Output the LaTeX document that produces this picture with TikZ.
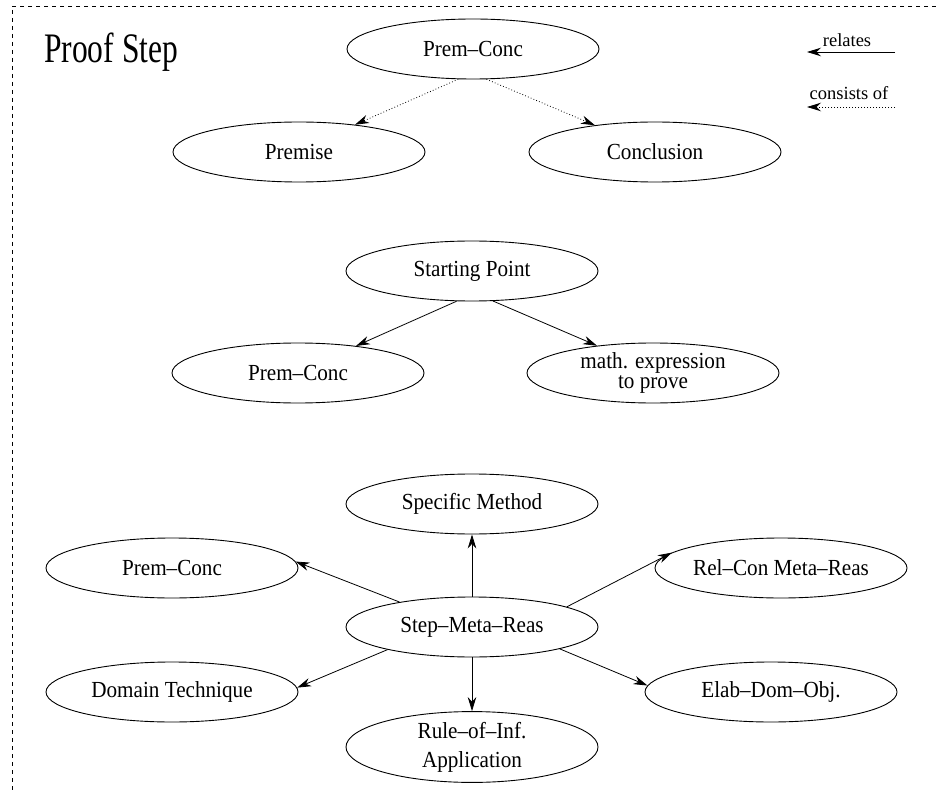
\documentclass[tikz,border=0pt]{standalone}
\usepackage{fontspec}
\setmainfont{Liberation Serif}
\newfontfamily\nodeface{Liberation Serif}[FakeStretch=0.92]
\newfontfamily\titleface{Liberation Serif}[FakeStretch=0.75]
\usetikzlibrary{shapes.geometric,arrows.meta}

\tikzset{
  concept/.style={ellipse, draw, line width=0.9pt, minimum width=252pt,
    minimum height=60pt, inner sep=0pt, align=center,
    font=\nodeface\fontsize{23}{18}\selectfont},
  relates/.style={line width=0.8pt, -{Stealth[length=14pt,width=8.5pt]}},
  consists/.style={line width=0.8pt, dash pattern=on 0.8pt off 2.2pt,
    -{Stealth[length=14pt,width=8.5pt]}},
  legendtext/.style={anchor=base, inner sep=0pt,
    font=\fontsize{18.5}{20}\selectfont},
  frameline/.style={line width=0.8pt, dash pattern=on 4pt off 4pt}
}

\begin{document}
\begin{tikzpicture}[x=1pt,y=-1pt]
\useasboundingbox (0,0) rectangle (936,791);

% enclosing frame (only its top and left edges fall on the page)
\draw[frameline] (936,6) -- (12,6) -- (12,791);

% title
\node[anchor=base west, inner sep=0pt, font=\titleface\fontsize{42}{44}\selectfont]
  (title) at (44,63) {Proof Step};

% legend
\node[legendtext] (relTxt) at (847,47) {relates};
\coordinate (relFrom) at (895,52);
\coordinate (relTo) at (807,52);
\draw[relates] (relFrom) -- (relTo);
\node[legendtext] (conTxt) at (849,100) {consists of};
\coordinate (conFrom) at (895,107);
\coordinate (conTo) at (807,107);
\draw[consists] (conFrom) -- (conTo);

% premise / conclusion decomposition
\node[concept] (pc1) at (473,49) {Prem–Conc};
\node[concept] (premise) at (299,152) {Premise};
\node[concept] (conclusion) at (655,152) {Conclusion};
\draw[consists] (pc1.244) -- (premise.26);
\draw[consists] (pc1.294) -- (conclusion.156);

% starting point
\node[concept] (start) at (472,271) {Starting Point};
\node[concept] (pc2) at (298,373) {Prem–Conc};
\node[concept] (mathexpr) at (653,373) {math. expression\\[1.5pt]to prove};
\draw[relates] (start.243) -- (pc2.25);
\draw[relates] (start.305) -- (mathexpr.154);

% step meta reasoning
\node[concept] (smr) at (472,627) {Step–Meta–Reas};
\node[concept] (sm) at (472,504) {Specific Method};
\node[concept] (pc3) at (172,568) {Prem–Conc};
\node[concept] (rc) at (781,568) {Rel–Con Meta–Reas};
\node[concept] (dt) at (172,692) {Domain Technique};
\node[concept] (elab) at (771,692) {Elab–Dom–Obj.};
\node[concept] (rule) at (472,747) {Rule–of–Inf.\\[11pt]Application};

\draw[relates] (smr.90) -- (sm.270);
\draw[relates] (smr.270) -- (rule.90);
\draw[relates] (smr.161) -- (pc3.3);
\draw[relates] (smr.12) -- (rc.172);
\draw[relates] (smr.195) -- (dt.2);
\draw[relates] (smr.346) -- (elab.177);
\end{tikzpicture}
\end{document}
